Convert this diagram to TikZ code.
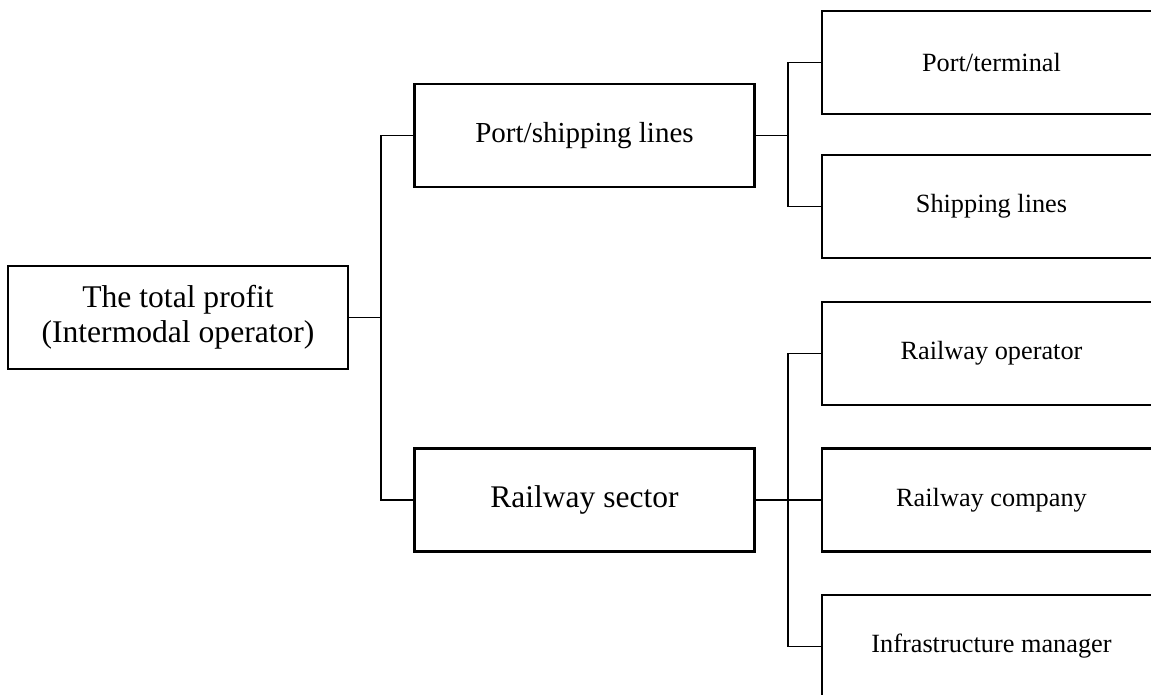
\documentclass[tikz,border=0pt]{standalone}
\usepackage{fontspec}
\setmainfont{Liberation Serif}
\begin{document}
\begin{tikzpicture}[x=1pt,y=-1pt,
  box/.style={draw, line width=2.3pt, rectangle, inner sep=0pt, align=center,
              minimum height=103pt},
  rootbox/.style={box, minimum width=340pt, font=\fontsize{31.6}{35}\selectfont},
  midbox/.style={box, minimum width=340pt},
  leafbox/.style={box, minimum width=339pt, font=\fontsize{26.3}{30}\selectfont},
  link/.style={line width=1.1pt}]
\useasboundingbox (0,0) rectangle (1151,695);
\clip (0,0) rectangle (1151,695);

% root
\node[rootbox] (root) at (178,317.5) {The total profit\\(Intermodal operator)};

% second level
\node[midbox, font=\fontsize{29}{33}\selectfont] (ps) at (584.5,135.5) {Port/shipping lines};
\node[midbox, font=\fontsize{31.5}{35}\selectfont] (rs) at (584.5,500) {Railway sector};

% leaves
\node[leafbox] (pt) at (991.5,62.5) {Port/terminal};
\node[leafbox] (sl) at (991.5,206.5) {Shipping lines};
\node[leafbox] (ro) at (991.5,353.5) {Railway operator};
\node[leafbox] (rc) at (991.5,500) {Railway company};
\node[leafbox] (im) at (991.5,646.5) {Infrastructure manager};

% junction points of the bracket connectors
\coordinate (j1) at (381,317.5);
\coordinate (j2) at (788,135.5);
\coordinate (j3) at (788,500);

\draw[link] (root.east) -- (j1);
\draw[link] (j1) |- (ps.west);
\draw[link] (j1) |- (rs.west);

\draw[link] (ps.east) -- (j2);
\draw[link] (j2) |- (pt.west);
\draw[link] (j2) |- (sl.west);

\draw[link] (rs.east) -- (rc.west);
\draw[link] (j3) |- (ro.west);
\draw[link] (j3) |- (im.west);
\end{tikzpicture}
\end{document}
